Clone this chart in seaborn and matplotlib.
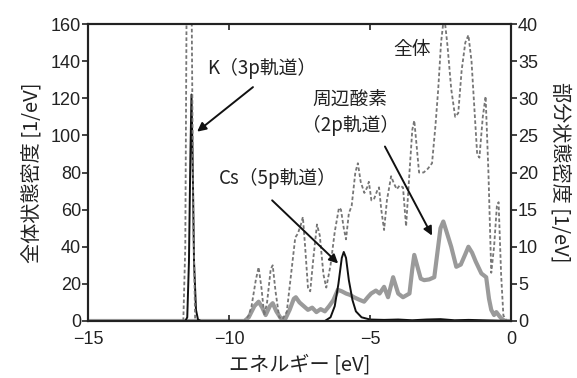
import matplotlib
matplotlib.use("Agg")
import matplotlib.pyplot as plt
import seaborn as sns
import numpy as np

# ---- data ----
# total DOS (left axis, 1/eV)
total_E = [-15.0, -11.62, -11.55, -11.5, -11.45, -11.38, -11.33, -11.27, -11.2, -9.45,
           -9.3, -9.2, -9.05, -8.95, -8.85, -8.75, -8.65, -8.52, -8.45, -8.35, -8.22, -8.1,
           -7.95, -7.8, -7.65, -7.56, -7.45, -7.38, -7.3, -7.2, -7.12, -7.0, -6.88, -6.78,
           -6.65, -6.55, -6.4, -6.25, -6.1, -6.03, -5.93, -5.85, -5.75, -5.65, -5.52, -5.43,
           -5.33, -5.2, -5.1, -5.04, -4.95, -4.85, -4.75, -4.68, -4.6, -4.5, -4.4, -4.25,
           -4.15, -4.05, -3.95, -3.83, -3.72, -3.6, -3.5, -3.43, -3.35, -3.26, -3.1, -2.95,
           -2.8, -2.68, -2.58, -2.48, -2.37, -2.25, -2.12, -1.98, -1.87, -1.75, -1.62, -1.51,
           -1.4, -1.3, -1.2, -1.12, -1.0, -0.9, -0.8, -0.7, -0.6, -0.5, -0.44, -0.35, -0.27,
           -0.15, 0.0]
total_D = [0, 0, 40, 180, 260, 260, 180, 60, 0, 0,
           3, 8, 22, 29, 18, 3, 10, 28, 30, 16, 2, 1,
           5, 25, 45, 47, 52, 56, 40, 18, 16, 35, 52, 46,
           25, 18, 30, 48, 61, 60, 50, 44, 58, 62, 80, 85,
           75, 69, 72, 75, 65, 66, 70, 72, 60, 49, 65, 78,
           74, 71, 73, 72, 51, 80, 103, 108, 95, 80, 80, 82,
           85, 105, 125, 150, 165, 148, 125, 110, 112, 135, 150, 154,
           140, 115, 90, 88, 110, 121, 80, 26, 40, 62, 64, 25, 3,
           0, 0]

# surrounding oxygen 2p partial DOS (right axis)
oxy_E = [-15.0, -9.45, -9.3, -9.1, -8.95, -8.82, -8.7, -8.55, -8.45, -8.32, -8.17, -8.0,
         -7.85, -7.7, -7.63, -7.5, -7.35, -7.2, -7.05, -6.9, -6.75, -6.6, -6.45, -6.3,
         -6.14, -6.0, -5.85, -5.7, -5.57, -5.4, -5.21, -5.08, -4.96, -4.79, -4.66, -4.5,
         -4.36, -4.18, -4.0, -3.83, -3.6, -3.5, -3.43, -3.33, -3.2, -3.08, -2.9, -2.72,
         -2.6, -2.5, -2.4, -2.3, -2.12, -1.94, -1.78, -1.62, -1.51, -1.38, -1.25, -1.05,
         -0.88, -0.78, -0.7, -0.6, -0.52, -0.4, -0.3, -0.2, 0.0]
oxy_D = [0, 0, 0.5, 2.0, 2.6, 1.8, 0.8, 2.0, 2.4, 1.3, 0.4, 0.3,
         1.5, 3.0, 3.2, 2.5, 2.0, 1.5, 1.8, 1.2, 1.6, 1.3, 2.0, 2.8,
         4.2, 4.0, 3.7, 3.5, 3.2, 2.9, 2.6, 3.2, 3.7, 4.1, 3.7, 4.6,
         3.2, 5.9, 3.7, 3.2, 3.7, 7.0, 8.9, 7.5, 5.7, 5.5, 5.6, 5.9,
         9.5, 12.5, 13.4, 12.2, 10.0, 7.3, 7.6, 9.0, 10.0, 9.2, 8.0, 6.4,
         5.9, 3.0, 1.5, 0.8, 1.2, 0.6, 0.2, 0, 0]

# K 3p and Cs 5p partial DOS (right axis)
alk_E = [-15.0, -11.55, -11.48, -11.42, -11.37, -11.33, -11.29, -11.24, -11.17, -11.1,
         -11.0, -6.6, -6.4, -6.25, -6.12, -6.0, -5.93, -5.85, -5.75, -5.62, -5.5, -5.3,
         -5.0, -4.5, -4.0, -3.5, -3.0, -2.5, -2.0, -1.5, -1.0, -0.5, 0.0]
alk_D = [0, 0, 0.5, 8, 22, 30.5, 22, 8, 1.5, 0.2,
         0, 0, 0.5, 2.0, 5.0, 8.5, 9.3, 8.5, 5.5, 2.8, 1.3, 0.5,
         0.2, 0.15, 0.2, 0.1, 0.2, 0.25, 0.1, 0.15, 0.1, 0.05, 0]

x_ticks = [-15, -10, -5, 0]
left_ticks = [0, 20, 40, 60, 80, 100, 120, 140, 160]
right_ticks = [0, 5, 10, 15, 20, 25, 30, 35, 40]

# ---- style ----
sns.set_style("ticks")
plt.rcParams["font.family"] = ["Liberation Sans", "DejaVu Sans"]
JP = ["Noto Sans CJK JP", "DejaVu Sans"]

fig = plt.figure(figsize=(5.77, 3.78), dpi=100)
ax = fig.add_axes([0.1525, 0.1508, 0.7331, 0.7857])
ax2 = ax.twinx()

sns.lineplot(x=total_E, y=total_D, ax=ax, color="#767676", lw=1.3,
             linestyle=(0, (2.0, 1.3)), sort=False, estimator=None, zorder=2)
sns.lineplot(x=oxy_E, y=oxy_D, ax=ax2, color="#9a9a9a", lw=3.0,
             sort=False, estimator=None, zorder=3)
sns.lineplot(x=alk_E, y=alk_D, ax=ax2, color="#111111", lw=1.4,
             sort=False, estimator=None, zorder=4)

ax.set_xlim(-15, 0)
ax.set_ylim(0, 160)
ax2.set_ylim(0, 40)
ax.set_xticks(x_ticks)
ax.set_xticklabels(["\u221215", "\u221210", "\u22125", "0"])
ax.set_yticks(left_ticks)
ax2.set_yticks(right_ticks)

for a in (ax, ax2):
    for s in a.spines.values():
        s.set_visible(True)
        s.set_linewidth(1.5)
        s.set_color("#222222")
ax.tick_params(axis="x", which="both", direction="in", top=True, bottom=True,
               length=4, width=1.2, labelsize=13, pad=7, colors="#222222")
ax.tick_params(axis="y", direction="out", length=4, width=1.2, labelsize=13,
               pad=1, colors="#222222")
ax2.tick_params(axis="y", direction="out", length=4, width=1.2, labelsize=13,
                pad=1, colors="#222222")

ax.set_xlabel("エネルギー [eV]", family=JP, fontsize=14.5, labelpad=5, color="#222222")
ax.set_ylabel("全体状態密度 [1/eV]", family=JP, fontsize=14.5, labelpad=6, color="#222222")
ax2.set_ylabel("部分状態密度 [1/eV]", family=JP, fontsize=14.5, rotation=270,
               labelpad=23, color="#222222")

ax.set_zorder(ax2.get_zorder() + 1)
ax.patch.set_visible(False)

arrow = dict(arrowstyle="-|>", color="#111111", lw=1.4, mutation_scale=13,
             shrinkA=0, shrinkB=0)
txt = dict(family=JP, fontsize=13.5, color="#222222", ha="center", va="center")

ax.annotate("", xy=(-11.13, 102), xytext=(-9.15, 126), arrowprops=arrow)
ax.text(-8.83, 136, "K（3p軌道）", **txt)
ax.annotate("", xy=(-6.13, 31), xytext=(-8.47, 65), arrowprops=arrow)
ax.text(-8.26, 77, "Cs（5p軌道）", **txt)
ax.annotate("", xy=(-2.8, 46), xytext=(-4.47, 94), arrowprops=arrow)
ax.text(-5.7, 112, "周辺酸素\n（2p軌道）", linespacing=1.25, **txt)
ax.text(-3.51, 146, "全体", **txt)

fig.savefig("out.png", dpi=100)
